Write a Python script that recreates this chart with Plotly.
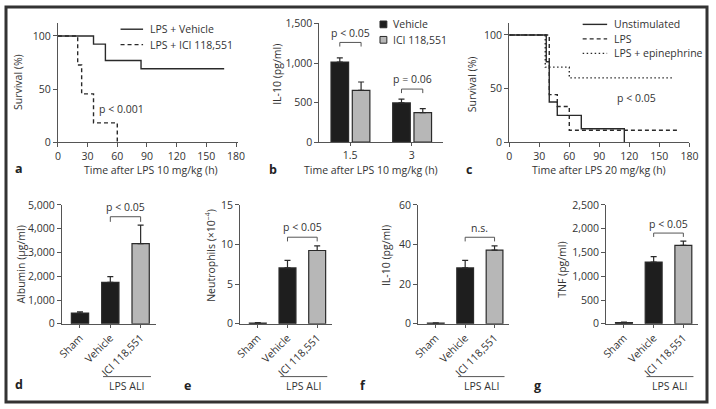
import plotly.graph_objects as go

W, H = 716, 409

# ---------------- data ----------------
# panel a: survival, LPS 10 mg/kg
a_veh_t = [0, 36, 48, 84, 168]
a_veh_s = [100, 92.3, 76.9, 69.2, 69.2]
a_ici_t = [0, 20, 24, 36, 60]
a_ici_s = [100, 72.7, 45.5, 18.2, 0]

# panel b: IL-10 after LPS 10 mg/kg
b_times = ["1.5", "3"]
b_veh = [1012, 496]
b_veh_err = [53, 49]
b_ici = [655, 374]
b_ici_err = [105, 49]

# panel c: survival, LPS 20 mg/kg
c_uns_t = [0, 37, 40, 48, 72, 115]
c_uns_s = [100, 75, 37.5, 25, 12.5, 0]
c_lps_t = [0, 40, 48, 60, 168]
c_lps_s = [100, 44.4, 33.3, 11.1, 11.1]
c_epi_t = [0, 36, 60, 165]
c_epi_s = [100, 70, 60, 60]

# panels d-g: LPS ALI
groups = ["Sham", "Vehicle", "ICI 118,551"]
d_vals = [450, 1743, 3375]
d_err = [55, 245, 775]
e_vals = [0.1, 7.05, 9.25]
e_err = [0.05, 0.95, 0.58]
f_vals = [0.3, 28.2, 37.2]
f_err = [0.2, 3.8, 2.1]
g_vals = [25, 1298, 1650]
g_err = [10, 116, 90]

# ---------------- style ----------------
FONT = "Open Sans"
TXT = "#333333"
AX = "#555555"
BLACK = "#1e1e1e"
GRAY = "#b7b7b7"
EDGE = "#2a2a2a"
FS = 10.5


def fx(px):
    return px / W


def fy(py):
    return 1 - py / H


fig = go.Figure()

# survival traces
line_kw = dict(mode="lines", line_shape="hv", showlegend=False, hoverinfo="skip")
fig.add_trace(go.Scatter(x=a_veh_t, y=a_veh_s, line=dict(color="#2a2a2a", width=1.4), xaxis="x", yaxis="y", **line_kw))
fig.add_trace(go.Scatter(x=a_ici_t, y=a_ici_s, line=dict(color="#2a2a2a", width=1.4, dash="4px,3px"), xaxis="x", yaxis="y", **line_kw))

fig.add_trace(go.Scatter(x=c_lps_t, y=c_lps_s, line=dict(color="#2a2a2a", width=1.4, dash="4px,3px"), xaxis="x3", yaxis="y3", **line_kw))
fig.add_trace(go.Scatter(x=c_epi_t, y=c_epi_s, line=dict(color="#2a2a2a", width=1.4, dash="1.5px,2.5px"), xaxis="x3", yaxis="y3", **line_kw))
fig.add_trace(go.Scatter(x=c_uns_t, y=c_uns_s, line=dict(color="#2a2a2a", width=1.4), xaxis="x3", yaxis="y3", **line_kw))


def err(arr, n):
    return dict(type="data", array=arr, arrayminus=[0] * n, symmetric=False,
                color=EDGE, thickness=1.2, width=3)


# panel b bars
BW = 0.285
fig.add_trace(go.Bar(x=[0, 1], y=b_veh, width=[BW, BW], offset=-0.31,
                     marker=dict(color=BLACK, line=dict(color=EDGE, width=1.2)),
                     error_y=err(b_veh_err, 2), xaxis="x2", yaxis="y2", showlegend=False))
fig.add_trace(go.Bar(x=[0, 1], y=b_ici, width=[BW, BW], offset=0.035,
                     marker=dict(color=GRAY, line=dict(color=EDGE, width=1.2)),
                     error_y=err(b_ici_err, 2), xaxis="x2", yaxis="y2", showlegend=False))

# panels d-g bars
colors = [BLACK, BLACK, GRAY]
for vals, errs, ax in [(d_vals, d_err, "4"), (e_vals, e_err, "5"), (f_vals, f_err, "6"), (g_vals, g_err, "7")]:
    fig.add_trace(go.Bar(x=[0, 1, 2], y=vals, width=0.57,
                         marker=dict(color=colors, line=dict(color=EDGE, width=1.2)),
                         error_y=err(errs, 3), xaxis="x" + ax, yaxis="y" + ax, showlegend=False))

# ---------------- axes ----------------
tickfont = dict(family=FONT, size=FS, color=TXT)
common = dict(showline=True, linecolor=AX, linewidth=1, ticks="outside", ticklen=4,
              tickcolor=AX, tickwidth=1, showgrid=False, zeroline=False, tickfont=tickfont)

layout = dict(
    xaxis=dict(domain=[fx(53), fx(237)], range=[0, 182], tickvals=[0, 30, 60, 90, 120, 150, 180], anchor="y", **common),
    yaxis=dict(domain=[fy(140), fy(17)], range=[0, 111.8], tickvals=[0, 50, 100], anchor="x", **common),
    xaxis2=dict(domain=[fx(320), fx(446)], range=[-0.5, 1.5], tickvals=[0, 1], ticktext=b_times, anchor="y2", **{**common, "ticklen": 3}),
    yaxis2=dict(domain=[fy(140), fy(17)], range=[0, 1500], tickvals=[0, 500, 1000, 1500], tickformat=",d", anchor="x2", **common),
    xaxis3=dict(domain=[fx(514), fx(698)], range=[0, 180], tickvals=[0, 30, 60, 90, 120, 150, 180], anchor="y3", **common),
    yaxis3=dict(domain=[fy(140), fy(17)], range=[0, 110.8], tickvals=[0, 50, 100], anchor="x3", **common),
)

bottom = {
    "4": (57, 153, [0, 5000], [0, 1000, 2000, 3000, 4000, 5000]),
    "5": (239, 333, [0, 15], [0, 5, 10, 15]),
    "6": (421, 514, [0, 60], [0, 20, 40, 60]),
    "7": (613, 707, [0, 2500], [0, 500, 1000, 1500, 2000, 2500]),
}
for k, (x0, x1, yr, tv) in bottom.items():
    layout["xaxis" + k] = dict(domain=[fx(x0), fx(x1)], range=[-0.6, 2.5], tickvals=[0, 1, 2], ticktext=groups,
                               tickangle=-45, anchor="y" + k, **{**common, "ticklen": 3})
    layout["yaxis" + k] = dict(domain=[fy(328), fy(205)], range=yr, tickvals=tv, tickformat=",d", anchor="x" + k, **common)

fig.update_layout(**layout)

# ---------------- annotations ----------------
anns = []
shapes = []


def ann(text, px, py, xanchor="center", size=FS, angle=0, bold=False, color=TXT):
    anns.append(dict(text=("<b>%s</b>" % text) if bold else text, x=fx(px), y=fy(py), xref="paper", yref="paper",
                     xanchor=xanchor, yanchor="middle", showarrow=False, textangle=angle,
                     font=dict(family=FONT, size=size, color=color)))


# panel letters
for t, px, py in [("a", 13, 167), ("b", 273, 168), ("c", 473, 168),
                  ("d", 13, 391), ("e", 185, 392), ("f", 365, 392), ("g", 543, 392)]:
    ann(t, px, py, size=12.5, bold=True, color="#222222")

# axis titles
ann("Time after LPS 10 mg/kg (h)", 148, 169)
ann("Time after LPS 10 mg/kg (h)", 373, 169)
ann("Time after LPS 20 mg/kg (h)", 606, 169)
ann("Survival (%)", 13, 78, angle=-90)
ann("IL-10 (pg/ml)", 276, 70, angle=-90)
ann("Survival (%)", 476, 80, angle=-90)
ann("Albumin (µg/ml)", 15, 267, angle=-90)
ann("Neutrophils (×10<sup>–4</sup>)", 208, 257, angle=-90)
ann("IL-10 (pg/ml)", 388, 257, angle=-90)
ann("TNF (pg/ml)", 568, 272, angle=-90)

# p-values
ann("p < 0.001", 93, 106, xanchor="left")
ann("p < 0.05", 644, 94)

# legends (drawn manually)
def leg_line(x0, x1, py, dash):
    shapes.append(dict(type="line", xref="paper", yref="paper", x0=fx(x0), x1=fx(x1), y0=fy(py), y1=fy(py),
                       line=dict(color="#2a2a2a", width=1.4, dash=dash)))


leg_line(117, 140, 23, "solid")
ann("LPS + Vehicle", 145, 23, xanchor="left")
leg_line(117, 140, 39, "4px,3px")
ann("LPS + ICI 118,551", 145, 39, xanchor="left")

leg_line(589, 614, 18, "solid")
ann("Unstimulated", 619, 18, xanchor="left")
leg_line(589, 614, 33, "4px,3px")
ann("LPS", 619, 33, xanchor="left")
leg_line(589, 614, 48, "1.5px,2.5px")
ann("LPS + epinephrine", 619, 48, xanchor="left")

for py, col, lab in [(18, BLACK, "Vehicle"), (34, GRAY, "ICI 118,551")]:
    shapes.append(dict(type="rect", xref="paper", yref="paper", x0=fx(382), x1=fx(389), y0=fy(py + 3.5), y1=fy(py - 3.5),
                       fillcolor=col, line=dict(color=EDGE, width=1)))
    ann(lab, 393, py, xanchor="left")


# significance brackets (data coords)
def bracket(xa, ya, x0, x1, ytop, ybot, text, ytext):
    shapes.append(dict(type="path", xref=xa, yref=ya,
                       path="M %s,%s L %s,%s L %s,%s L %s,%s" % (x0, ybot, x0, ytop, x1, ytop, x1, ybot),
                       line=dict(color=AX, width=1)))
    anns.append(dict(text=text, x=(x0 + x1) / 2, y=ytext, xref=xa, yref=ya, showarrow=False,
                     xanchor="center", yanchor="middle", font=dict(family=FONT, size=FS, color=TXT)))


bracket("x2", "y2", -0.1675, 0.1775, 1260, 1208, "p < 0.05", 1374)
bracket("x2", "y2", 0.8325, 1.1775, 671, 620, "p = 0.06", 793)
bracket("x4", "y4", 1, 2, 4506, 4290, "p < 0.05", 4914)
bracket("x5", "y5", 1, 2, 10.93, 10.4, "p < 0.05", 12.2)
bracket("x6", "y6", 1, 2, 43.7, 41.6, "n.s.", 48.3)
bracket("x7", "y7", 1, 2, 1909, 1828, "p < 0.05", 2093)

# LPS ALI group lines
for k in ["4", "5", "6", "7"]:
    shapes.append(dict(type="line", xref="x" + k, yref="paper", x0=0.76, x1=2.34, y0=fy(382.7), y1=fy(382.7),
                       line=dict(color=AX, width=1)))
    anns.append(dict(text="LPS ALI", x=1.55, y=fy(392), xref="x" + k, yref="paper", showarrow=False,
                     xanchor="center", yanchor="middle", font=dict(family=FONT, size=FS, color=TXT)))

# outer border
shapes.append(dict(type="rect", xref="paper", yref="paper", x0=0, x1=1, y0=0, y1=1,
                   line=dict(color="#333333", width=3), fillcolor="rgba(0,0,0,0)"))

fig.update_layout(
    width=W, height=H, margin=dict(l=0, r=0, t=0, b=0),
    paper_bgcolor="white", plot_bgcolor="white",
    barmode="overlay", showlegend=False,
    annotations=anns, shapes=shapes,
    font=dict(family=FONT, size=FS, color=TXT),
)

fig.write_html("out.html", config={"displayModeBar": False},
               post_script="document.body.style.margin='0';document.body.style.overflow='hidden';")
